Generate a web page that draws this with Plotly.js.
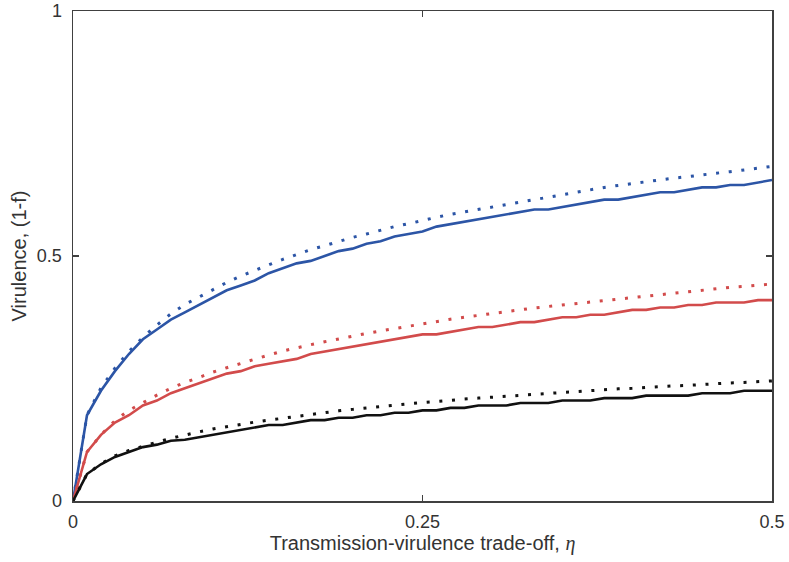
<!DOCTYPE html>
<html>
<head>
<meta charset="utf-8">
<script src="https://cdn.plot.ly/plotly-3.0.1.min.js"></script>
<style>html,body{margin:0;padding:0;background:#fff;}#chart{width:789px;height:562px;}</style>
</head>
<body>
<div id="chart"></div>
<script>
var eta = [0,0.01,0.02,0.03,0.04,0.05,0.06,0.07,0.08,0.09,0.10,0.11,0.12,0.13,0.14,0.15,0.16,0.17,0.18,0.19,0.20,0.21,0.22,0.23,0.24,0.25,0.26,0.27,0.28,0.29,0.30,0.31,0.32,0.33,0.34,0.35,0.36,0.37,0.38,0.39,0.40,0.41,0.42,0.43,0.44,0.45,0.46,0.47,0.48,0.49,0.50];

var blueSolid = [0,0.175,0.225,0.265,0.30,0.33,0.35,0.37,0.385,0.40,0.415,0.43,0.44,0.45,0.465,0.475,0.485,0.49,0.50,0.51,0.515,0.525,0.53,0.54,0.545,0.55,0.56,0.565,0.57,0.575,0.58,0.585,0.59,0.595,0.595,0.60,0.605,0.61,0.615,0.615,0.62,0.625,0.63,0.63,0.635,0.64,0.64,0.645,0.645,0.65,0.655];
var blueDotted = [0,0.175,0.231,0.271,0.305,0.334,0.359,0.382,0.401,0.416,0.432,0.446,0.459,0.471,0.482,0.493,0.503,0.513,0.521,0.530,0.538,0.545,0.553,0.560,0.566,0.573,0.579,0.585,0.590,0.596,0.601,0.606,0.611,0.616,0.621,0.625,0.630,0.635,0.640,0.644,0.648,0.652,0.655,0.659,0.662,0.666,0.669,0.672,0.676,0.679,0.683];

var redSolid = [0,0.10,0.135,0.16,0.175,0.195,0.205,0.22,0.23,0.24,0.25,0.26,0.265,0.275,0.28,0.285,0.29,0.30,0.305,0.31,0.315,0.32,0.325,0.33,0.335,0.34,0.34,0.345,0.35,0.355,0.355,0.36,0.365,0.365,0.37,0.375,0.375,0.38,0.38,0.385,0.39,0.39,0.395,0.395,0.40,0.40,0.405,0.405,0.405,0.41,0.41];
var redDotted = [0,0.10,0.135,0.164,0.185,0.201,0.216,0.230,0.242,0.252,0.263,0.272,0.281,0.290,0.298,0.306,0.313,0.319,0.325,0.331,0.336,0.342,0.347,0.352,0.357,0.362,0.366,0.371,0.375,0.379,0.383,0.387,0.390,0.394,0.397,0.400,0.403,0.406,0.409,0.412,0.415,0.419,0.422,0.425,0.428,0.430,0.433,0.436,0.438,0.441,0.443];

var blackSolid = [0,0.055,0.075,0.09,0.10,0.11,0.115,0.123,0.125,0.13,0.135,0.14,0.145,0.15,0.155,0.155,0.16,0.165,0.165,0.17,0.17,0.175,0.175,0.18,0.18,0.185,0.185,0.19,0.19,0.195,0.195,0.195,0.20,0.20,0.20,0.205,0.205,0.205,0.21,0.21,0.21,0.215,0.215,0.215,0.215,0.22,0.22,0.22,0.225,0.225,0.225];
var blackDotted = [0,0.055,0.076,0.092,0.103,0.112,0.120,0.128,0.135,0.141,0.147,0.152,0.157,0.161,0.165,0.169,0.173,0.177,0.180,0.184,0.187,0.190,0.193,0.196,0.198,0.201,0.203,0.206,0.208,0.210,0.212,0.214,0.216,0.218,0.220,0.221,0.223,0.225,0.227,0.229,0.230,0.232,0.233,0.235,0.236,0.238,0.239,0.241,0.242,0.244,0.245];

var xTickVals = [0,0.25,0.5];
var xTickText = ['0','0.25','0.5'];
var yTickVals = [0,0.5,1];
var yTickText = ['0','0.5','1'];

var BLUE = '#2c55a6', RED = '#d24b4b', BLACK = '#111111';
var DOT = '3px,9.7px';
var FONT = 'Liberation Sans, Arial, sans-serif';

function solid(y, c){ return {x: eta, y: y, mode:'lines', line:{color:c, width:2.6}, hoverinfo:'skip', showlegend:false}; }
function dotted(y, c){ return {x: eta, y: y, mode:'lines', line:{color:c, width:3, dash:DOT}, hoverinfo:'skip', showlegend:false}; }

var data = [
  dotted(blueDotted, BLUE), solid(blueSolid, BLUE),
  dotted(redDotted, RED), solid(redSolid, RED),
  dotted(blackDotted, BLACK), solid(blackSolid, BLACK)
];

var axisCommon = {
  showgrid:false, zeroline:false, showline:true, mirror:'ticks',
  linecolor:'#404040', linewidth:1.5,
  ticks:'inside', ticklen:6, tickwidth:1.5, tickcolor:'#404040',
  tickfont:{family:FONT, size:18, color:'#333333'}
};

var layout = {
  width:789, height:562,
  margin:{l:73, r:17, t:11, b:61},
  paper_bgcolor:'#ffffff', plot_bgcolor:'#ffffff',
  font:{family:FONT, size:18, color:'#333333'},
  xaxis: Object.assign({}, axisCommon, {
    range:[0,0.5], tickmode:'array', tickvals:xTickVals, ticktext:xTickText,
    ticklabelstandoff:4,
    title:{text:'Transmission-virulence trade-off, <span style="font-family:Liberation Serif;font-style:italic">η</span>', standoff:3,
      font:{family:FONT, size:20, color:'#333333'}}
  }),
  yaxis: Object.assign({}, axisCommon, {
    range:[0,1], tickmode:'array', tickvals:yTickVals, ticktext:yTickText,
    ticklabelstandoff:6,
    title:{text:'Virulence, (1-f)', standoff:5,
      font:{family:FONT, size:20, color:'#333333'}}
  })
};

Plotly.newPlot('chart', data, layout, {staticPlot:true, displayModeBar:false});
</script>
</body>
</html>
